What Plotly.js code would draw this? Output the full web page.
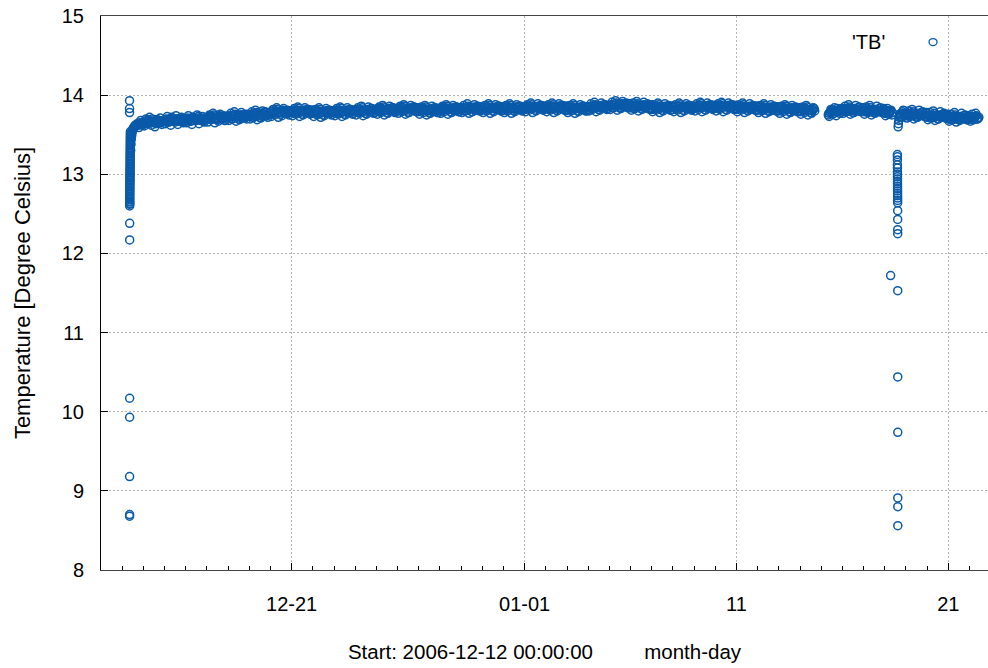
<!DOCTYPE html>
<html>
<head>
<meta charset="utf-8">
<script src="https://cdn.plot.ly/plotly-3.0.1.min.js"></script>
<style>html,body{margin:0;padding:0;background:#fff;}</style>
</head>
<body>
<div id="chart" style="width:988px;height:668px;"></div>
<script>
// ---- data (temperature in degree Celsius) ----
// startup readings, one per minute from 2006-12-13 08:20
const startupStart = '2006-12-13 08:20';
const startupStepMin = 1;
const startupTemps = [13.93,13.83,13.78,8.68,8.70,9.18,9.93,10.17,12.17,12.38,
 12.60,12.62,12.63,12.65,12.66,12.68,12.70,12.72,12.74,12.76,12.78,12.80,12.82,12.84,12.86,12.88,12.90,12.92,12.93,12.95,
 12.97,12.99,13.00,13.02,13.04,13.06,13.08,13.10,13.12,13.14,13.16,13.18,13.20,13.22,13.24,13.26,13.28,13.30,13.32,13.34,
 13.36,13.38,13.40,13.42,13.44,13.46,13.48,13.50,13.52,13.54];
// warm-up curve
const warmupTimes = ['2006-12-13 09:40','2006-12-13 10:00','2006-12-13 10:20','2006-12-13 10:40','2006-12-13 11:00','2006-12-13 11:30','2006-12-13 12:00','2006-12-13 12:30','2006-12-13 13:00','2006-12-13 14:00','2006-12-13 15:00','2006-12-13 16:00','2006-12-13 17:00'];
const warmupTemps = [13.30,13.38,13.44,13.48,13.51,13.54,13.56,13.58,13.59,13.61,13.62,13.61,13.64];
// regular readings every 2 hours, three interleaved sets (:00 even hours, :00 odd hours, :40 even hours)
const stepHours = 2;
const seg1Start = '2006-12-13 18:00';
const seg1Temps = [
 13.63,13.65,13.64,
 13.66,13.64,13.68,13.65,13.67,13.70,13.66,13.64,13.69,13.67,13.65,13.68,
 13.67,13.70,13.66,13.69,13.72,13.68,13.66,13.70,13.67,13.71,13.69,13.66,
 13.68,13.71,13.69,13.67,13.72,13.70,13.68,13.73,13.69,13.71,13.67,13.70,
 13.70,13.73,13.69,13.72,13.75,13.71,13.69,13.74,13.70,13.72,13.68,13.73,
 13.71,13.74,13.70,13.73,13.76,13.72,13.70,13.75,13.71,13.74,13.72,13.76,
 13.73,13.76,13.72,13.75,13.78,13.74,13.72,13.77,13.75,13.79,13.74,13.77,
 13.76,13.80,13.77,13.79,13.82,13.78,13.76,13.81,13.78,13.80,13.77,13.79,
 13.78,13.81,13.77,13.80,13.83,13.79,13.76,13.81,13.78,13.82,13.79,13.77,
 13.77,13.80,13.76,13.79,13.82,13.78,13.75,13.80,13.77,13.81,13.78,13.76,
 13.78,13.81,13.77,13.80,13.83,13.79,13.76,13.81,13.78,13.82,13.79,13.77,
 13.79,13.82,13.78,13.81,13.84,13.80,13.77,13.82,13.79,13.83,13.80,13.78,
 13.80,13.83,13.79,13.82,13.85,13.81,13.78,13.83,13.80,13.84,13.81,13.79,
 13.80,13.84,13.80,13.82,13.86,13.81,13.78,13.83,13.81,13.85,13.80,13.79,
 13.79,13.83,13.80,13.82,13.85,13.80,13.78,13.82,13.79,13.84,13.81,13.78,
 13.80,13.84,13.81,13.83,13.86,13.82,13.79,13.83,13.80,13.85,13.82,13.79,
 13.81,13.84,13.80,13.83,13.86,13.82,13.79,13.84,13.81,13.85,13.82,13.80,
 13.82,13.85,13.81,13.84,13.87,13.83,13.80,13.84,13.82,13.86,13.83,13.80,
 13.81,13.85,13.82,13.84,13.87,13.83,13.80,13.85,13.82,13.86,13.83,13.81,
 13.82,13.86,13.83,13.85,13.88,13.84,13.81,13.85,13.83,13.87,13.84,13.82,
 13.83,13.86,13.82,13.85,13.88,13.84,13.81,13.86,13.83,13.87,13.84,13.81,
 13.81,13.85,13.82,13.84,13.87,13.83,13.80,13.84,13.82,13.86,13.83,13.80,
 13.82,13.85,13.83,13.86,13.88,13.84,13.82,13.86,13.84,13.88,13.85,13.83,
 13.85,13.88,13.84,13.87,13.90,13.86,13.84,13.89,13.85,13.88,13.86,13.84,
 13.84,13.87,13.83,13.86,13.89,13.85,13.83,13.87,13.84,13.86,13.83,13.82,
 13.82,13.86,13.83,13.85,13.88,13.84,13.81,13.85,13.83,13.86,13.84,13.81,
 13.82,13.85,13.83,13.86,13.88,13.84,13.81,13.86,13.83,13.87,13.84,13.82,
 13.83,13.86,13.84,13.87,13.89,13.85,13.82,13.86,13.84,13.88,13.85,13.83,
 13.84,13.87,13.83,13.86,13.89,13.85,13.82,13.87,13.84,13.88,13.85,13.83,
 13.82,13.86,13.83,13.85,13.88,13.84,13.81,13.85,13.82,13.86,13.84,13.81,
 13.81,13.85,13.82,13.84,13.87,13.83,13.80,13.84,13.81,13.85,13.83,13.80,
 13.80,13.84,13.81,13.83,13.86,13.82,13.79,13.83,13.80,13.84,13.82,13.79,
 13.79,13.83,13.80,13.82,13.85,13.81,13.78,13.80,13.83
];
const seg1bStart = '2006-12-13 19:00';
const seg1bTemps = [
 13.59,13.68,13.62,
 13.61,13.70,13.64,13.72,13.62,13.67,13.60,13.69,13.65,13.71,13.63,13.68,
 13.64,13.73,13.66,13.62,13.71,13.69,13.74,13.63,13.67,13.72,13.65,13.70,
 13.65,13.74,13.67,13.63,13.72,13.70,13.75,13.64,13.68,13.73,13.66,13.71,
 13.66,13.75,13.69,13.77,13.65,13.72,13.67,13.76,13.70,13.74,13.68,13.73,
 13.68,13.77,13.70,13.79,13.67,13.74,13.69,13.78,13.72,13.76,13.70,13.75,
 13.70,13.79,13.72,13.81,13.69,13.76,13.71,13.80,13.74,13.78,13.72,13.77,
 13.73,13.82,13.75,13.84,13.72,13.79,13.74,13.83,13.77,13.81,13.75,13.80,
 13.74,13.83,13.76,13.85,13.73,13.80,13.75,13.84,13.78,13.82,13.76,13.81,
 13.73,13.82,13.75,13.84,13.72,13.79,13.74,13.83,13.77,13.81,13.75,13.80,
 13.74,13.83,13.76,13.85,13.73,13.80,13.75,13.84,13.78,13.82,13.76,13.81,
 13.75,13.84,13.77,13.86,13.74,13.81,13.76,13.85,13.79,13.83,13.77,13.82,
 13.76,13.85,13.78,13.87,13.75,13.82,13.77,13.86,13.80,13.84,13.78,13.83,
 13.77,13.86,13.79,13.88,13.76,13.83,13.78,13.87,13.81,13.85,13.79,13.84,
 13.76,13.85,13.78,13.87,13.75,13.82,13.77,13.86,13.80,13.84,13.78,13.83,
 13.77,13.86,13.79,13.88,13.76,13.83,13.78,13.87,13.81,13.85,13.79,13.84,
 13.78,13.87,13.80,13.89,13.77,13.84,13.79,13.88,13.82,13.86,13.80,13.85,
 13.78,13.87,13.80,13.89,13.77,13.84,13.79,13.88,13.82,13.86,13.80,13.85,
 13.78,13.87,13.80,13.89,13.77,13.84,13.79,13.88,13.82,13.86,13.80,13.85,
 13.79,13.88,13.81,13.90,13.78,13.85,13.80,13.89,13.83,13.87,13.81,13.86,
 13.79,13.88,13.81,13.90,13.78,13.85,13.80,13.89,13.83,13.87,13.81,13.86,
 13.78,13.87,13.80,13.89,13.77,13.84,13.79,13.88,13.82,13.86,13.80,13.85,
 13.80,13.89,13.82,13.91,13.79,13.86,13.81,13.90,13.84,13.88,13.82,13.87,
 13.82,13.91,13.84,13.93,13.81,13.88,13.83,13.92,13.86,13.90,13.84,13.89,
 13.81,13.90,13.83,13.92,13.80,13.87,13.82,13.91,13.85,13.89,13.83,13.88,
 13.79,13.88,13.81,13.90,13.78,13.85,13.80,13.89,13.83,13.87,13.81,13.86,
 13.79,13.88,13.81,13.90,13.78,13.85,13.80,13.89,13.83,13.87,13.81,13.86,
 13.80,13.89,13.82,13.91,13.79,13.86,13.81,13.90,13.84,13.88,13.82,13.87,
 13.80,13.89,13.82,13.91,13.79,13.86,13.81,13.90,13.84,13.88,13.82,13.87,
 13.79,13.88,13.81,13.90,13.78,13.85,13.80,13.89,13.83,13.87,13.81,13.86,
 13.78,13.87,13.80,13.89,13.77,13.84,13.79,13.88,13.82,13.86,13.80,13.85,
 13.77,13.86,13.79,13.88,13.76,13.83,13.78,13.87,13.81,13.85,13.79,13.84,
 13.76,13.85,13.78,13.87,13.75,13.82,13.77,13.84
];
const seg1cStart = '2006-12-13 18:40';
const seg1cTemps = [
 13.62,13.64,13.63,
 13.65,13.67,13.66,13.68,13.65,13.67,13.66,13.68,13.67,13.65,13.66,13.68,
 13.67,13.69,13.68,13.70,13.67,13.69,13.68,13.70,13.69,13.67,13.68,13.70,
 13.68,13.70,13.69,13.71,13.68,13.70,13.69,13.71,13.70,13.68,13.69,13.71,
 13.70,13.72,13.71,13.73,13.70,13.72,13.71,13.73,13.72,13.70,13.71,13.73,
 13.72,13.74,13.73,13.75,13.72,13.74,13.73,13.75,13.74,13.72,13.73,13.75,
 13.74,13.76,13.75,13.77,13.74,13.76,13.75,13.77,13.76,13.74,13.75,13.77,
 13.77,13.79,13.78,13.80,13.77,13.79,13.78,13.80,13.79,13.77,13.78,13.80,
 13.78,13.80,13.79,13.81,13.78,13.80,13.79,13.81,13.80,13.78,13.79,13.81,
 13.77,13.79,13.78,13.80,13.77,13.79,13.78,13.80,13.79,13.77,13.78,13.80,
 13.78,13.80,13.79,13.81,13.78,13.80,13.79,13.81,13.80,13.78,13.79,13.81,
 13.79,13.81,13.80,13.82,13.79,13.81,13.80,13.82,13.81,13.79,13.80,13.82,
 13.80,13.82,13.81,13.83,13.80,13.82,13.81,13.83,13.82,13.80,13.81,13.83,
 13.81,13.83,13.82,13.84,13.81,13.83,13.82,13.84,13.83,13.81,13.82,13.84,
 13.80,13.82,13.81,13.83,13.80,13.82,13.81,13.83,13.82,13.80,13.81,13.83,
 13.81,13.83,13.82,13.84,13.81,13.83,13.82,13.84,13.83,13.81,13.82,13.84,
 13.82,13.84,13.83,13.85,13.82,13.84,13.83,13.85,13.84,13.82,13.83,13.85,
 13.82,13.83,13.84,13.85,13.82,13.84,13.83,13.85,13.84,13.83,13.82,13.85,
 13.83,13.84,13.82,13.85,13.83,13.84,13.82,13.85,13.84,13.82,13.83,13.85,
 13.83,13.85,13.84,13.86,13.83,13.85,13.84,13.86,13.85,13.83,13.84,13.86,
 13.84,13.85,13.83,13.86,13.84,13.85,13.83,13.86,13.85,13.84,13.83,13.86,
 13.82,13.84,13.83,13.85,13.82,13.84,13.83,13.85,13.84,13.82,13.83,13.85,
 13.84,13.86,13.85,13.87,13.84,13.86,13.85,13.87,13.86,13.84,13.85,13.87,
 13.86,13.88,13.87,13.89,13.86,13.88,13.87,13.89,13.88,13.86,13.87,13.89,
 13.85,13.87,13.86,13.88,13.85,13.87,13.86,13.88,13.87,13.85,13.86,13.88,
 13.83,13.85,13.84,13.86,13.83,13.85,13.84,13.86,13.85,13.83,13.84,13.86,
 13.84,13.85,13.83,13.86,13.84,13.85,13.84,13.86,13.85,13.83,13.84,13.86,
 13.84,13.86,13.85,13.87,13.84,13.86,13.85,13.87,13.86,13.84,13.85,13.87,
 13.85,13.86,13.84,13.87,13.85,13.86,13.85,13.87,13.86,13.84,13.85,13.87,
 13.83,13.85,13.84,13.86,13.83,13.85,13.84,13.86,13.85,13.83,13.84,13.86,
 13.82,13.84,13.83,13.85,13.82,13.84,13.83,13.85,13.84,13.82,13.83,13.85,
 13.81,13.83,13.82,13.84,13.81,13.83,13.82,13.84,13.83,13.81,13.82,13.84,
 13.80,13.82,13.81,13.83,13.80,13.82,13.81,13.82,13.80
];
const seg2Start = '2007-01-15 08:00';
const seg2Temps = [
 13.75,13.78,13.81,13.77,13.80,13.83,13.79,13.82,
 13.80,13.83,13.79,13.82,13.85,13.81,13.78,13.83,13.80,13.84,13.81,13.79,
 13.80,13.83,13.79,13.82,13.84,13.80,13.78,13.82,13.79,13.83,13.80,13.78,
 13.77,13.80,13.76,13.79,13.75
];
const seg2bStart = '2007-01-15 09:00';
const seg2bTemps = [
 13.73,13.82,13.76,13.84,13.74,13.80,13.77,13.83,
 13.77,13.86,13.79,13.88,13.76,13.83,13.78,13.87,13.81,13.85,13.79,13.84,
 13.76,13.85,13.78,13.87,13.75,13.82,13.77,13.86,13.80,13.84,13.78,13.83,
 13.74,13.83,13.76,13.81
];
const seg2cStart = '2007-01-15 08:40';
const seg2cTemps = [
 13.77,13.79,13.80,13.81,13.79,13.81,13.80,13.82,
 13.80,13.82,13.81,13.83,13.80,13.82,13.81,13.83,13.82,13.80,13.81,13.83,
 13.79,13.81,13.80,13.82,13.79,13.81,13.80,13.82,13.81,13.79,13.80,13.82,
 13.78,13.80,13.79,13.80,13.78
];
// sensor drop-out, 2007-01-18
const dropTimes = ['2007-01-18 06:40','2007-01-18 14:20','2007-01-18 14:21','2007-01-18 14:22','2007-01-18 14:23','2007-01-18 14:24','2007-01-18 14:25','2007-01-18 14:26','2007-01-18 14:27','2007-01-18 14:28','2007-01-18 14:29','2007-01-18 14:30','2007-01-18 14:31','2007-01-18 14:32','2007-01-18 14:33','2007-01-18 14:34','2007-01-18 14:35','2007-01-18 14:36','2007-01-18 14:37','2007-01-18 14:38','2007-01-18 14:39','2007-01-18 14:40','2007-01-18 14:41','2007-01-18 14:42','2007-01-18 14:43','2007-01-18 14:44','2007-01-18 14:45','2007-01-18 14:46','2007-01-18 14:47','2007-01-18 14:48','2007-01-18 15:10','2007-01-18 15:30','2007-01-18 15:50','2007-01-18 16:10','2007-01-18 16:40','2007-01-18 17:10'];
const dropTemps = [11.72,13.25,13.22,13.18,13.12,13.08,13.03,13.00,12.97,12.94,12.91,12.88,12.85,12.82,12.79,12.76,12.73,12.70,12.67,12.64,12.54,12.43,12.30,12.25,11.53,10.44,9.74,8.91,8.80,8.56,13.60,13.64,13.68,13.72,13.76,13.73];
const seg3Start = '2007-01-18 18:00';
const seg3Temps = [
 13.76,13.79,13.75,
 13.74,13.77,13.73,13.76,13.79,13.75,13.72,13.76,13.74,13.78,13.75,13.73,
 13.72,13.75,13.71,13.74,13.77,13.73,13.70,13.74,13.72,13.76,13.73,13.71,
 13.70,13.73,13.69,13.72,13.75,13.71,13.69,13.73,13.70,13.74,13.71,13.69,
 13.70,13.73,13.69,13.72,13.74,13.71
];
const seg3bStart = '2007-01-18 19:00';
const seg3bTemps = [
 13.72,13.81,13.74,
 13.71,13.80,13.73,13.82,13.70,13.77,13.72,13.81,13.75,13.79,13.73,13.78,
 13.69,13.78,13.71,13.80,13.68,13.75,13.70,13.79,13.73,13.77,13.71,13.76,
 13.67,13.76,13.69,13.78,13.66,13.73,13.68,13.77,13.71,13.75,13.69,13.74,
 13.67,13.76,13.69,13.77,13.70
];
const seg3cStart = '2007-01-18 18:40';
const seg3cTemps = [
 13.75,13.77,13.76,
 13.74,13.76,13.75,13.77,13.74,13.76,13.75,13.77,13.76,13.74,13.75,13.77,
 13.72,13.74,13.73,13.75,13.72,13.74,13.73,13.75,13.74,13.72,13.73,13.75,
 13.70,13.72,13.71,13.73,13.70,13.72,13.71,13.73,13.72,13.70,13.71,13.73,
 13.70,13.72,13.71,13.73,13.70,13.72
];
const xTickVals = ['2006-12-21','2007-01-01','2007-01-11','2007-01-21'];
const xTickText = ['12-21','01-01','11','21'];

// ---- build ----
function parseT(s){ const [d,t] = s.split(' '); const [Y,M,D] = d.split('-').map(Number); const [h,m] = t.split(':').map(Number); return Date.UTC(Y,M-1,D,h,m); }
function fmt(ms){ const d = new Date(ms); const p = n => String(n).padStart(2,'0'); return d.getUTCFullYear()+'-'+p(d.getUTCMonth()+1)+'-'+p(d.getUTCDate())+' '+p(d.getUTCHours())+':'+p(d.getUTCMinutes())+':'+p(d.getUTCSeconds()); }
function regularTimes(start, vals, stepMs){ const t0 = parseT(start); return vals.map((v,i)=>fmt(t0 + i*stepMs)); }
const H = 3600000;

const xs = [].concat(
  regularTimes(startupStart, startupTemps, startupStepMin*60000), warmupTimes,
  regularTimes(seg1Start, seg1Temps, stepHours*H), regularTimes(seg1bStart, seg1bTemps, stepHours*H), regularTimes(seg1cStart, seg1cTemps, stepHours*H),
  regularTimes(seg2Start, seg2Temps, stepHours*H), regularTimes(seg2bStart, seg2bTemps, stepHours*H), regularTimes(seg2cStart, seg2cTemps, stepHours*H),
  dropTimes,
  regularTimes(seg3Start, seg3Temps, stepHours*H), regularTimes(seg3bStart, seg3bTemps, stepHours*H), regularTimes(seg3cStart, seg3cTemps, stepHours*H));
const ys = [].concat(startupTemps, warmupTemps, seg1Temps, seg1bTemps, seg1cTemps, seg2Temps, seg2bTemps, seg2cTemps, dropTemps, seg3Temps, seg3bTemps, seg3cTemps);

const blue = '#0a5aaa';
const font = {family: 'Liberation Sans, Arial, sans-serif', size: 20, color: '#000'};
const nb = '\u00a0';

const trace = {
  type: 'scatter', mode: 'markers', name: "'TB'", x: xs, y: ys,
  marker: {symbol: 'circle-open', size: 8, color: blue, line: {width: 1.5, color: blue}},
  showlegend: false, hoverinfo: 'x+y'
};

const gridStyle = {showgrid: true, gridcolor: '#b4b4b4', griddash: '2px,2px', gridwidth: 1};

const layout = {
  width: 988, height: 668,
  margin: {l: 101, r: 0, t: 16, b: 98, pad: 0},
  paper_bgcolor: '#fff', plot_bgcolor: '#fff',
  font: font,
  showlegend: false,
  xaxis: Object.assign({
    type: 'date', range: ['2006-12-12 00:00', '2007-01-22 21:00'],
    tickmode: 'array', tickvals: xTickVals, ticktext: xTickText,
    ticks: 'inside', ticklen: 7, tickwidth: 1, tickcolor: '#000',
    ticklabelstandoff: 16,
    minor: {tickmode: 'linear', tick0: '2006-12-12', dtick: 86400000, ticks: 'inside', ticklen: 4, tickcolor: '#000', showgrid: false},
    showline: true, linecolor: '#444', linewidth: 1, mirror: true,
    zeroline: false, tickfont: font,
    title: {text: 'Start: 2006-12-12 00:00:00' + nb.repeat(9) + 'month-day', font: Object.assign({}, font, {size: 20.5}), standoff: 30},
    automargin: false
  }, gridStyle),
  yaxis: Object.assign({
    range: [8, 15], dtick: 1, tick0: 8,
    ticks: 'inside', ticklen: 7, tickwidth: 1, tickcolor: '#000',
    ticklabelstandoff: 12,
    showline: true, linecolor: '#000', linewidth: 1, mirror: false,
    zeroline: false, tickfont: font,
    title: {text: 'Temperature [Degree Celsius]', font: Object.assign({}, font, {size: 22}), standoff: 25},
    automargin: false
  }, gridStyle),
  annotations: [{
    xref: 'paper', yref: 'paper', x: 0.865, y: 0.953, text: "'TB'", showarrow: false,
    xanchor: 'center', yanchor: 'middle', font: font
  }],
  shapes: [{
    type: 'circle', xref: 'paper', yref: 'paper', xsizemode: 'pixel', ysizemode: 'pixel',
    xanchor: 0.938, yanchor: 0.953, x0: -4, x1: 4, y0: -3.5, y1: 3.5,
    line: {color: blue, width: 1.3}, fillcolor: 'rgba(0,0,0,0)'
  }]
};

Plotly.newPlot('chart', [trace], layout, {displayModeBar: false, staticPlot: true});
</script>
</body>
</html>
